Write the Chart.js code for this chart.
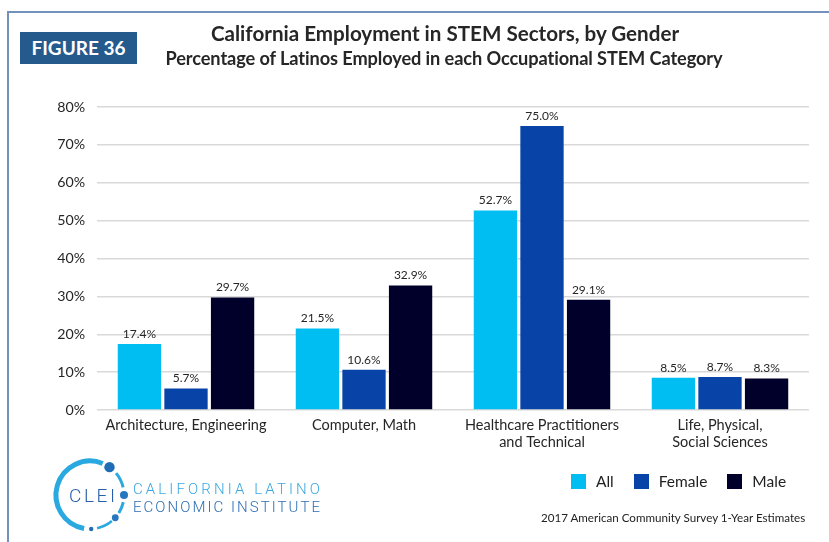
<!DOCTYPE html>
<html>
<head>
<meta charset="utf-8">
<title>California Employment in STEM Sectors, by Gender</title>
<script src="https://cdn.jsdelivr.net/npm/chart.js@4.4.1/dist/chart.umd.min.js"></script>
<style>
  html, body { margin: 0; padding: 0; background: #fff; }
  body { width: 829px; height: 542px; position: relative; overflow: hidden; font-family: Lato, "Noto Sans", sans-serif; color: #222; }
  #frame { position: absolute; left: 7px; top: 11px; right: -5px; bottom: -5px; border-top: 2px solid #7392bb; border-left: 2px solid #7392bb; }
  #chart-wrap { position: absolute; left: 0; top: 0; width: 829px; height: 542px; }
  #fig-tag { position: absolute; left: 20px; top: 32px; width: 117px; height: 32px; background: #255a8d; color: #fff;
             font-weight: 700; font-size: 19px; line-height: 32px; text-align: center; }
  .title { position: absolute; left: 140px; width: 610px; text-align: center; font-weight: 700; color: #262626; white-space: nowrap; }
  #title { top: 21px; font-size: 20.6px; left: 140px; }
  #subtitle { top: 47px; font-size: 18.2px; letter-spacing: -0.1px; left: 139px; }
  #legend { position: absolute; left: 571px; top: 472px; display: flex; align-items: center; font-size: 15.5px; color: #222; }
  #legend .item { display: flex; align-items: center; margin-right: 20px; }
  #legend .swatch { width: 15px; height: 15px; margin-right: 10px; }
  #source { position: absolute; left: 541px; top: 511px; font-size: 11.6px; color: #222; white-space: nowrap; }
  #logo { position: absolute; left: 0; top: 440px; }
</style>
</head>
<body>
<div id="frame"></div>
<div id="chart-wrap"><canvas id="stemChart"></canvas></div>
<div id="fig-tag">FIGURE 36</div>
<div class="title" id="title">California Employment in STEM Sectors, by Gender</div>
<div class="title" id="subtitle">Percentage of Latinos Employed in each Occupational STEM Category</div>
<div id="legend"></div>
<div id="source">2017 American Community Survey 1-Year Estimates</div>
<svg id="logo" width="340" height="100"></svg>

<script>
// occupational categories (x axis)
const categories = [
    'Architecture, Engineering',
    'Computer, Math',
    ['Healthcare Practitioners', 'and Technical'],
    ['Life, Physical,', 'Social Sciences']
];
// share of Latinos employed, percent
const allValues = [17.4, 21.5, 52.7, 8.5];
const femaleValues = [5.7, 10.6, 75.0, 8.7];
const maleValues = [29.7, 32.9, 29.1, 8.3];

const seriesNames = ['All', 'Female', 'Male'];
const seriesColors = ['#00bdf2', '#0844a8', '#00002b'];
const yTicks = [0, 10, 20, 30, 40, 50, 60, 70, 80];

// writes the value on top of every bar
const barValueLabels = {
    id: 'barValueLabels',
    afterDatasetsDraw(chart) {
        const ctx = chart.ctx;
        ctx.save();
        ctx.font = '12px Lato, "Noto Sans", sans-serif';
        ctx.fillStyle = '#262626';
        ctx.textAlign = 'center';
        ctx.textBaseline = 'bottom';
        chart.data.datasets.forEach((ds, i) => {
            chart.getDatasetMeta(i).data.forEach((bar, j) => {
                ctx.fillText(ds.data[j].toFixed(1) + '%', bar.x, bar.y - 4);
            });
        });
        ctx.restore();
    }
};

const datasets = [allValues, femaleValues, maleValues].map((values, i) => ({
    label: seriesNames[i],
    data: values,
    backgroundColor: seriesColors[i],
    borderWidth: 0,
    categoryPercentage: 0.785,
    barPercentage: 0.93
}));

new Chart(document.getElementById('stemChart'), {
    type: 'bar',
    data: { labels: categories, datasets: datasets },
    options: {
        responsive: true,
        maintainAspectRatio: false,
        animation: false,
        layout: { padding: { left: 47, right: 20, top: 107, bottom: 82 } },
        plugins: {
            legend: { display: false },
            tooltip: { enabled: false }
        },
        scales: {
            x: {
                grid: { display: false, drawTicks: false },
                border: { display: false },
                ticks: {
                    color: '#262626',
                    font: { family: 'Lato', size: 14.5, lineHeight: 1.18 },
                    padding: 7,
                    maxRotation: 0,
                    autoSkip: false
                },
                afterFit: (s) => { s.height = 50; }
            },
            y: {
                min: yTicks[0],
                max: yTicks[yTicks.length - 1],
                afterBuildTicks: (s) => { s.ticks = yTicks.map(v => ({ value: v })); },
                grid: { color: '#d9d9d9', lineWidth: 1.5, drawTicks: false },
                border: { display: false },
                ticks: {
                    color: '#262626',
                    font: { family: 'Lato', size: 14.2 },
                    padding: 12,
                    callback: (v) => v + '%'
                },
                afterFit: (s) => { s.width = 50; }
            }
        }
    },
    plugins: [barValueLabels]
});

// legend
const legendDiv = document.getElementById('legend');
seriesNames.forEach((name, i) => {
    legendDiv.insertAdjacentHTML('beforeend',
        `<div class="item"><div class="swatch" style="background:${seriesColors[i]}"></div><span>${name}</span></div>`);
});

// CLEI logo: ring, dots and the institute name
const svg = document.getElementById('logo');
const cx = 90, cy = 55, r = 34;
function pt(a, rad) {
    const t = a * Math.PI / 180;
    return [cx + rad * Math.cos(t), cy + rad * Math.sin(t)];
}
function arc(a0, a1, width, color) {
    const [x0, y0] = pt(a0, r);
    const [x1, y1] = pt(a1, r);
    const large = (a1 - a0) > 180 ? 1 : 0;
    return `<path d="M${x0.toFixed(2)} ${y0.toFixed(2)} A${r} ${r} 0 ${large} 1 ${x1.toFixed(2)} ${y1.toFixed(2)}" fill="none" stroke="${color}" stroke-width="${width}"/>`;
}
function dot(a, rad, color) {
    const [x, y] = pt(a, r);
    return `<circle cx="${x.toFixed(2)}" cy="${y.toFixed(2)}" r="${rad}" fill="${color}"/>`;
}
let logo = '';
logo += arc(100, 292, 5, '#2aa8e0');
logo += arc(320, 347, 3, '#2aa8e0');
logo += arc(12, 32, 3, '#2aa8e0');
logo += arc(50, 78, 2.5, '#2aa8e0');
logo += dot(305, 5.2, '#1f6db7');
logo += dot(0, 4, '#2577bf');
logo += dot(42, 3.4, '#2577bf');
logo += dot(88, 2.2, '#1f6db7');
logo += `<text x="92" y="62" text-anchor="middle" font-family="Roboto, sans-serif" font-weight="300" font-size="19" fill="#2a5ea8" textLength="46" lengthAdjust="spacing">CLEI</text>`;
logo += `<text x="133" y="54" font-family="Roboto, sans-serif" font-weight="300" font-size="15" fill="#3aa7df" textLength="187" lengthAdjust="spacing">CALIFORNIA LATINO</text>`;
logo += `<text x="133" y="72" font-family="Roboto, sans-serif" font-weight="300" font-size="15" fill="#2a6cb2" textLength="187" lengthAdjust="spacing">ECONOMIC INSTITUTE</text>`;
svg.innerHTML = logo;
</script>
</body>
</html>
